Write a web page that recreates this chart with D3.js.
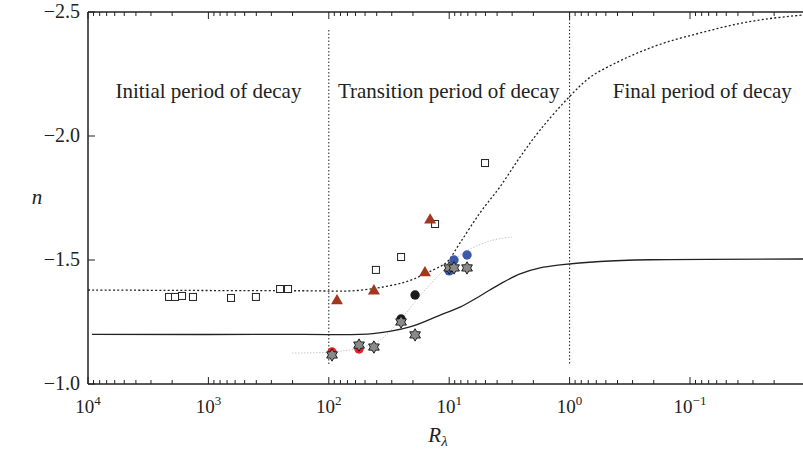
<!DOCTYPE html>
<html><head><meta charset="utf-8">
<script src="https://cdn.jsdelivr.net/npm/d3@7"></script>
<style>body{margin:0;background:#fff}svg{display:block;font-family:"Liberation Serif","DejaVu Serif",serif}</style>
</head><body><svg id="c" width="803" height="451"></svg>
<script>
// ---- data ----
const xTicks = [1e4, 1e3, 1e2, 1e1, 1e0, 1e-1];
const xTickExp = ["4", "3", "2", "1", "0", "\u22121"];
const yTicks = [-1.0, -1.5, -2.0, -2.5];
const yTickLabels = ["\u22121.0", "\u22121.5", "\u22122.0", "\u22122.5"];
const regionLabels = ["Initial period of decay", "Transition period of decay", "Final period of decay"];
const regionLabelR = [1000, 10.1, 0.079];
const dividerR = [100, 1];

const squaresR = [2123, 1893, 1656, 1343, 649, 403, 254, 218, 40.6, 25.1, 13.1, 5.04];
const squaresN = [-1.351, -1.351, -1.355, -1.351, -1.347, -1.351, -1.383, -1.383, -1.460, -1.512, -1.645, -1.891];
const trianglesR = [85.5, 42.2, 15.9, 14.4];
const trianglesN = [-1.335, -1.375, -1.448, -1.661];
const blackR = [25.1, 19.2];
const blackN = [-1.262, -1.359];
const redR = [94, 56.1];
const redN = [-1.129, -1.141];
const blueR = [10.0, 9.12, 7.11];
const blueN = [-1.456, -1.500, -1.520];
const starsR = [94, 56.1, 42.2, 25.1, 19.2, 10.0, 9.12, 7.11];
const starsN = [-1.117, -1.157, -1.149, -1.250, -1.198, -1.468, -1.468, -1.468];

const solidR = [9265, 173, 43, 21.2, 11.9, 8.13, 5.55, 3.79, 2.58, 1.76, 1.20, 0.56, 0.215, 0.0115];
const solidN = [-1.200, -1.200, -1.203, -1.230, -1.278, -1.310, -1.355, -1.403, -1.444, -1.468, -1.480, -1.494, -1.501, -1.504];
const dottedR = [10000, 173, 58.3, 29.3, 20.8, 15.3, 11.9, 10.4, 8.13, 5.55, 3.80, 2.58, 1.76, 1.01, 0.67, 0.40, 0.26, 0.155, 0.083, 0.044, 0.023, 0.0115];
const dottedN = [-1.379, -1.376, -1.377, -1.399, -1.419, -1.448, -1.474, -1.492, -1.569, -1.690, -1.794, -1.915, -2.024, -2.157, -2.238, -2.298, -2.339, -2.379, -2.415, -2.448, -2.472, -2.488];
const grayR = [202, 94, 56, 37.6, 25.6, 17.5, 11.9, 7.67, 4.58, 3.0];
const grayN = [-1.125, -1.129, -1.145, -1.177, -1.258, -1.355, -1.444, -1.528, -1.577, -1.593];

// ---- layout ----
const svg = d3.select("#c");
const L = 88, T = 12, B = 384;
const x = d3.scaleLog().domain([1e4, 1e-2]).range([L, L + 6 * 120.4]);
const y = d3.scaleLinear().domain([-1, -2.5]).range([B, T]);
const W = 803;

const zip = (a, b) => a.map((v, i) => [v, b[i]]);
const line = d3.line().x(d => x(d[0])).y(d => y(d[1])).curve(d3.curveCatmullRom.alpha(0.5));

// minor tick values
const minor = [];
for (let e = -2; e < 4; e++) for (let m = 2; m <= 9; m++) minor.push(m * Math.pow(10, e));

// bottom axis
const gB = svg.append("g").attr("transform", `translate(0,${B})`);
gB.append("line").attr("x1", L).attr("x2", W).attr("stroke", "#222").attr("stroke-width", 1.5);
gB.selectAll("line.maj").data(xTicks).join("line").attr("class", "maj")
  .attr("x1", d => x(d)).attr("x2", d => x(d)).attr("y1", 0).attr("y2", -7).attr("stroke", "#222").attr("stroke-width", 1);
gB.selectAll("line.min").data(minor.filter(v => x(v) < W)).join("line").attr("class", "min")
  .attr("x1", d => x(d)).attr("x2", d => x(d)).attr("y1", 0).attr("y2", -4).attr("stroke", "#222").attr("stroke-width", 1);
const lab = gB.selectAll("text").data(xTicks).join("text")
  .attr("x", d => x(d)).attr("y", 29).attr("text-anchor", "middle").attr("font-size", 19).attr("fill", "#222");
lab.append("tspan").text("10");
lab.append("tspan").attr("dy", -8).attr("font-size", 13).text((d, i) => xTickExp[i]);

// top axis
const gT = svg.append("g").attr("transform", `translate(0,${T})`);
gT.append("line").attr("x1", L).attr("x2", W).attr("stroke", "#222").attr("stroke-width", 1.5);
gT.selectAll("line.maj").data(xTicks).join("line").attr("class", "maj")
  .attr("x1", d => x(d)).attr("x2", d => x(d)).attr("y1", 0).attr("y2", 7).attr("stroke", "#222").attr("stroke-width", 1);
gT.selectAll("line.min").data(minor.filter(v => x(v) < W)).join("line").attr("class", "min")
  .attr("x1", d => x(d)).attr("x2", d => x(d)).attr("y1", 0).attr("y2", 4).attr("stroke", "#222").attr("stroke-width", 1);

// left axis
const gL = svg.append("g");
gL.append("line").attr("x1", L).attr("x2", L).attr("y1", T).attr("y2", B).attr("stroke", "#222").attr("stroke-width", 1.5);
gL.selectAll("line.t").data(yTicks).join("line").attr("class", "t")
  .attr("x1", L).attr("x2", L + 7).attr("y1", d => y(d)).attr("y2", d => y(d)).attr("stroke", "#222").attr("stroke-width", 1);
gL.selectAll("text").data(yTicks).join("text")
  .attr("x", L - 8).attr("y", d => y(d) + 6).attr("text-anchor", "end").attr("font-size", 20).attr("fill", "#222")
  .text((d, i) => yTickLabels[i]);

// axis titles
svg.append("text").attr("x", 37).attr("y", 204).attr("text-anchor", "middle").attr("font-size", 21)
  .attr("font-style", "italic").attr("fill", "#222").text("n");
const rl = svg.append("text").attr("x", 438).attr("y", 442).attr("text-anchor", "middle").attr("font-size", 21).attr("fill", "#222");
rl.append("tspan").attr("font-style", "italic").text("R");
rl.append("tspan").attr("font-style", "italic").attr("font-size", 15).attr("dy", 4).text("\u03bb");

// clip
svg.append("clipPath").attr("id", "clip").append("rect").attr("x", L).attr("y", T).attr("width", W - L).attr("height", B - T);
const plot = svg.append("g").attr("clip-path", "url(#clip)");

// dividers
plot.selectAll("line.div").data(dividerR).join("line").attr("class", "div")
  .attr("x1", d => x(d)).attr("x2", d => x(d))
  .attr("y1", (d, i) => i === 0 ? 30 : T).attr("y2", 365)
  .attr("stroke", "#222").attr("stroke-width", 1).attr("stroke-dasharray", "1.5,2");

// region labels
svg.selectAll("text.reg").data(regionLabels).join("text").attr("class", "reg")
  .attr("x", (d, i) => x(regionLabelR[i])).attr("y", 98).attr("text-anchor", "middle")
  .attr("font-size", 21).attr("fill", "#222").text(d => d);

// curves
plot.append("path").attr("d", line(zip(grayR, grayN))).attr("fill", "none")
  .attr("stroke", "#c8c8c8").attr("stroke-width", 1).attr("stroke-dasharray", "1.5,1.5");
plot.append("path").attr("d", line(zip(solidR, solidN))).attr("fill", "none")
  .attr("stroke", "#222").attr("stroke-width", 1.3);
plot.append("path").attr("d", line(zip(dottedR, dottedN))).attr("fill", "none")
  .attr("stroke", "#222").attr("stroke-width", 1.3).attr("stroke-dasharray", "2,2.2");

// markers
plot.selectAll("rect.sq").data(zip(squaresR, squaresN)).join("rect").attr("class", "sq")
  .attr("x", d => x(d[0]) - 3.5).attr("y", d => y(d[1]) - 3.5).attr("width", 7).attr("height", 7)
  .attr("fill", "#fff").attr("stroke", "#222").attr("stroke-width", 1);
const tri = d3.symbol().type(d3.symbolTriangle).size(62);
plot.selectAll("path.tri").data(zip(trianglesR, trianglesN)).join("path").attr("class", "tri")
  .attr("d", tri).attr("transform", d => `translate(${x(d[0])},${y(d[1])})`).attr("fill", "#a3371d");
const circ = (R, N, col, cls) => plot.selectAll("circle." + cls).data(zip(R, N)).join("circle").attr("class", cls)
  .attr("cx", d => x(d[0])).attr("cy", d => y(d[1])).attr("r", 4.7).attr("fill", col);
circ(redR, redN, "#e8202a", "red");
circ(blackR, blackN, "#1b1b1b", "blk");
circ(blueR, blueN, "#3a59ab", "blu");
// six-pointed star shape
function starPath(ro, ri) {
  const p = [];
  for (let k = 0; k < 12; k++) {
    const a = -Math.PI / 2 + k * Math.PI / 6, r = k % 2 ? ri : ro;
    p.push([r * Math.cos(a), r * Math.sin(a)]);
  }
  return "M" + p.map(q => q.join(",")).join("L") + "Z";
}
plot.selectAll("path.star").data(zip(starsR, starsN)).join("path").attr("class", "star")
  .attr("d", starPath(6.2, 3.6)).attr("transform", d => `translate(${x(d[0])},${y(d[1])})`)
  .attr("fill", "#8a8a8a").attr("stroke", "#111").attr("stroke-width", 0.9);
</script></body></html>
